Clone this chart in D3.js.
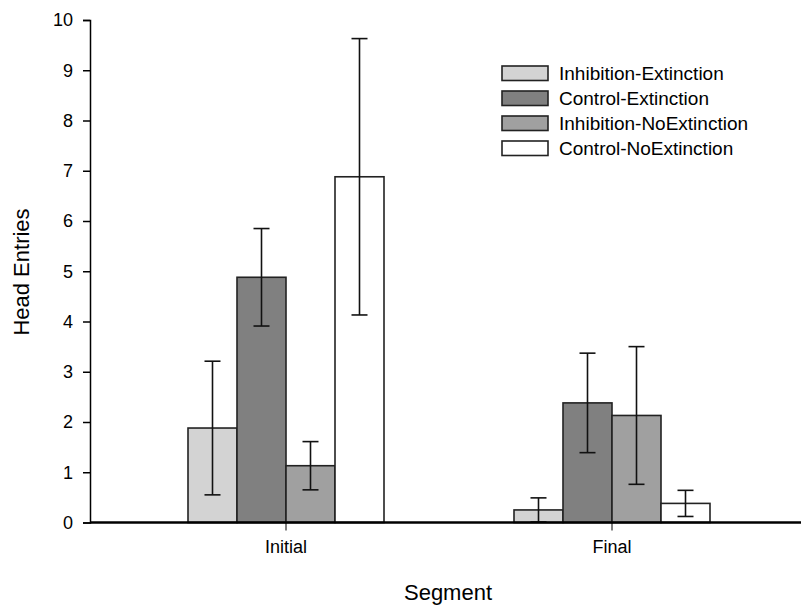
<!DOCTYPE html>
<html>
<head>
<meta charset="utf-8">
<script src="https://d3js.org/d3.v7.min.js"></script>
<style>
body { margin: 0; background: #fff; }
svg text { font-family: "Liberation Sans", Arial, sans-serif; fill: #000; }
</style>
</head>
<body>
<svg id="chart" width="801" height="614"></svg>
<script>
// data
const segments = ["Initial", "Final"];
const groups = ["Inhibition-Extinction", "Control-Extinction", "Inhibition-NoExtinction", "Control-NoExtinction"];
const means = [
  [1.88, 4.88, 1.13, 6.88],   // Initial
  [0.25, 2.38, 2.13, 0.38]    // Final
];
const errs = [
  [1.33, 0.97, 0.48, 2.75],
  [0.24, 0.99, 1.37, 0.26]
];
const yTicks = [0, 1, 2, 3, 4, 5, 6, 7, 8, 9, 10];
const fills = ["#d3d3d3", "#808080", "#a0a0a0", "#ffffff"];

const svg = d3.select("#chart");
const plotLeft = 90, plotRight = 801, plotTop = 20, plotBottom = 522.5;

const y = d3.scaleLinear().domain([0, 10]).range([plotBottom, plotTop]);
const x = d3.scaleBand().domain(segments).range([123, 775]);
const xInner = d3.scaleBand().domain(groups).range([-98, 98]);
const color = d3.scaleOrdinal().domain(groups).range(fills);

// y axis
const yAxis = svg.append("g")
  .attr("transform", "translate(" + plotLeft + ",0)")
  .call(d3.axisLeft(y).tickValues(yTicks).tickSize(7).tickSizeOuter(7).tickPadding(10));
yAxis.selectAll("text").attr("font-size", 18).attr("font-family", "Liberation Sans, Arial, sans-serif");
yAxis.select(".domain").attr("stroke-width", 1.5);
yAxis.selectAll(".tick line").attr("stroke-width", 1.5);

// bars
const rows = [];
segments.forEach((s, i) => groups.forEach((g, j) => rows.push({seg: s, grp: g, m: means[i][j], e: errs[i][j]})));
const cx = d => x(d.seg) + x.bandwidth() / 2;

svg.append("g").selectAll("rect")
  .data(rows)
  .join("rect")
  .attr("x", d => cx(d) + xInner(d.grp))
  .attr("y", d => y(d.m))
  .attr("width", xInner.bandwidth())
  .attr("height", d => y(0) - y(d.m))
  .attr("fill", d => color(d.grp))
  .attr("stroke", "#222")
  .attr("stroke-width", 1.6);

// error bars
const eb = svg.append("g").attr("stroke", "#111").attr("stroke-width", 1.6);
rows.forEach(d => {
  const xc = cx(d) + xInner(d.grp) + xInner.bandwidth() / 2;
  const lo = Math.max(0, d.m - d.e), hi = d.m + d.e;
  eb.append("line").attr("x1", xc).attr("x2", xc).attr("y1", y(lo)).attr("y2", y(hi));
  eb.append("line").attr("x1", xc - 8).attr("x2", xc + 8).attr("y1", y(hi)).attr("y2", y(hi));
  eb.append("line").attr("x1", xc - 8).attr("x2", xc + 8).attr("y1", y(lo)).attr("y2", y(lo));
});

// x axis
const xAxis = svg.append("g")
  .attr("transform", "translate(0," + plotBottom + ")")
  .call(d3.axisBottom(x).tickSize(8).tickSizeOuter(0).tickPadding(10));
xAxis.select(".domain").remove();
xAxis.selectAll("text").attr("font-size", 18).attr("font-family", "Liberation Sans, Arial, sans-serif");
svg.append("line")
  .attr("x1", plotLeft).attr("x2", plotRight)
  .attr("y1", plotBottom).attr("y2", plotBottom)
  .attr("stroke", "#000").attr("stroke-width", 2.5);

// axis titles
svg.append("text")
  .attr("transform", "translate(29,272) rotate(-90)")
  .attr("text-anchor", "middle")
  .attr("font-size", 22)
  .text("Head Entries");

svg.append("text")
  .attr("x", 448).attr("y", 600)
  .attr("text-anchor", "middle")
  .attr("font-size", 22)
  .text("Segment");

// legend
const legend = svg.append("g").selectAll("g")
  .data(groups)
  .join("g")
  .attr("transform", (d, i) => "translate(502," + (66 + i * 25) + ")");
legend.append("rect")
  .attr("width", 46).attr("height", 14.5)
  .attr("fill", d => color(d))
  .attr("stroke", "#222").attr("stroke-width", 1.6);
legend.append("text")
  .attr("x", 57).attr("y", 13.5)
  .attr("font-size", 19)
  .text(d => d);
</script>
</body>
</html>
